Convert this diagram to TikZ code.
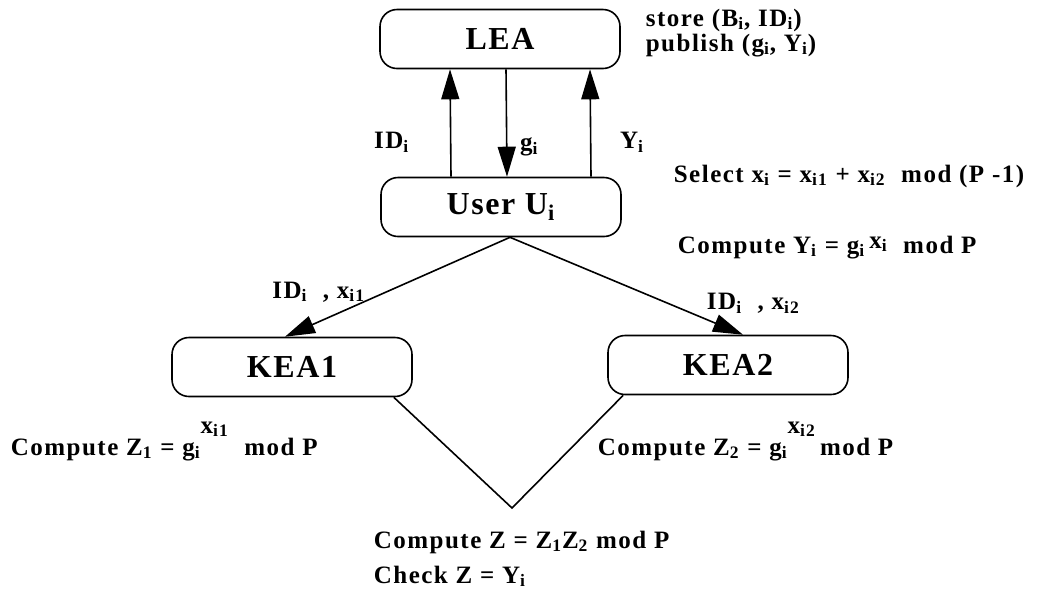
\documentclass[tikz,border=0pt]{standalone}
\usepackage{fontspec}
\setmainfont{Liberation Serif}
\usetikzlibrary{arrows.meta}

\newcommand{\sbs}[1]{\textsubscript{#1}}
\newcommand{\hix}[1]{\raisebox{11pt}{x\sbs{#1}}}

\begin{document}
\begin{tikzpicture}[x=0.5pt,y=-0.5pt,line width=0.8pt,
box/.style={draw,rounded corners=8.5pt,minimum width=120pt,minimum height=29.5pt,font=\fontsize{16}{18}\selectfont\bfseries\addfontfeatures{LetterSpace=5}},
note/.style={anchor=base west,inner sep=0pt,font=\fontsize{12.5}{14}\selectfont\bfseries\addfontfeatures{LetterSpace=6}},
arrownote/.style={black,font=\fontsize{12.5}{14}\selectfont\bfseries\addfontfeatures{LetterSpace=6}},
>={Triangle[length=15pt,width=9pt]}]

\useasboundingbox (0,0) rectangle (1037,601);

\node (lea) at (500,39) [box] {LEA};
\node (user) at (501,207) [box] {User U\sbs{i}};

\node (kea1) at (292,367) [box] {KEA1};
\node (kea2) at (728,365) [box] {KEA2};

\coordinate (zv) at (512,508);

\draw [->] ([xshift=-25pt]user.north) to node [arrownote,left=17pt,pos=0.32] {ID\sbs{i}} ([xshift=-25pt]lea.south);
\draw [->] ([xshift=3pt]lea.south) to node [arrownote,right=3pt,pos=0.72] {g\sbs{i}} ([xshift=3pt]user.north);
\draw [->] ([xshift=45pt]user.north) to node [arrownote,right=11pt,pos=0.32] {Y\sbs{i}} ([xshift=45pt]lea.south);

\draw [->] ([xshift=4.5pt]user.south) to node [arrownote,pos=0.85,yshift=15pt] {ID\sbs{i}\ \ , x\sbs{i1}} ([xshift=-3.5pt]kea1.north);
\draw [->] ([xshift=4.5pt]user.south) to node [arrownote,pos=0.92,xshift=14.5pt,yshift=12pt] {ID\sbs{i}\ \ , x\sbs{i2}} ([xshift=7.5pt]kea2.north);

\draw ([xshift=-9.5pt]kea1.south east) -- (zv) -- ([xshift=8pt]kea2.south west);

\node (store) at (645,26) [note] {store (B\sbs{i}, ID\sbs{i})};
\node (publish) at (645,51) [note] {publish (g\sbs{i}, Y\sbs{i})};
\node (select) at (673,182) [note] {Select x\sbs{i} = x\sbs{i1} + x\sbs{i2}\ \ mod (P -1)};
\node (compy) at (677,253) [note] {Compute Y\sbs{i} = g\sbs{i}\,\raisebox{2.5pt}{x\sbs{i}}\ \ mod P};
\node (compz1) at (10,455) [note] {Compute Z\sbs{1} = g\sbs{i}\hix{i1}\ \ mod P};
\node (compz2) at (597,455) [note] {Compute Z\sbs{2} = g\sbs{i}\hix{i2}\,mod P};
\node (compz) at (373,548) [note] {Compute Z = Z\sbs{1}Z\sbs{2} mod P};
\node (check) at (373,583) [note] {Check Z = Y\sbs{i}};

\end{tikzpicture}
\end{document}
